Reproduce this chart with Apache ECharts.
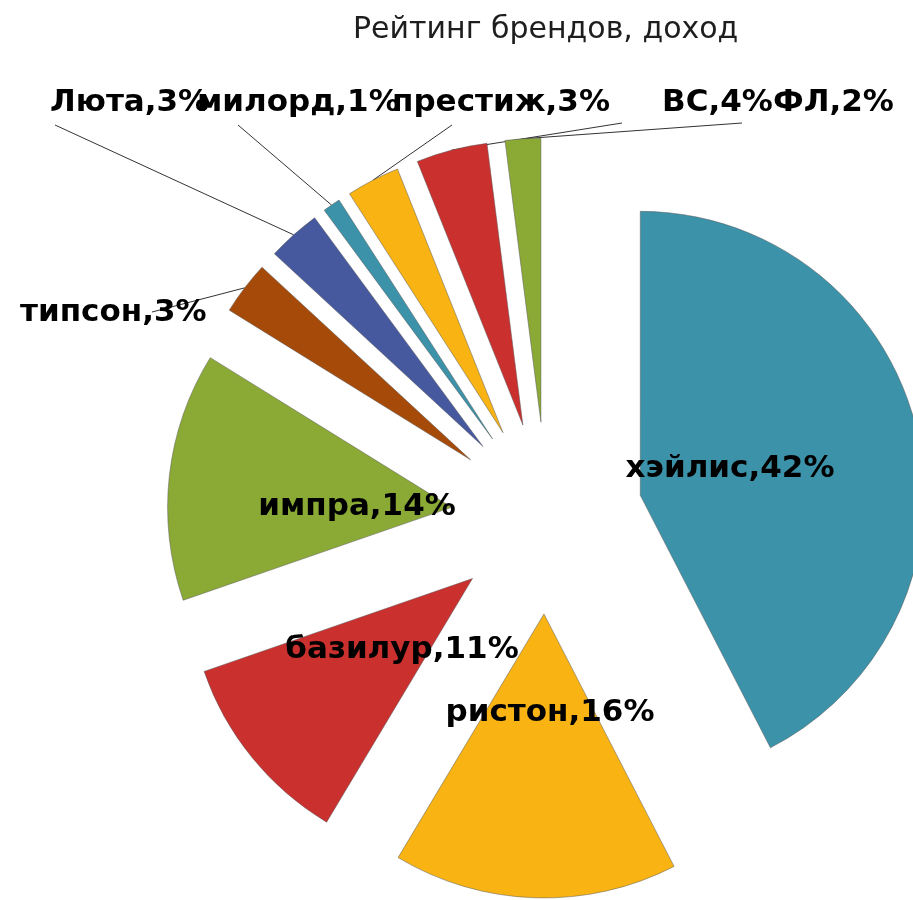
<!DOCTYPE html>
<html>
<head>
<meta charset="utf-8">
<title>Рейтинг брендов, доход</title>
<script src="https://cdn.jsdelivr.net/npm/echarts@6/dist/echarts.min.js"></script>
<style>
html, body { margin: 0; padding: 0; background: #fff; }
#chart { width: 913px; height: 900px; }
</style>
</head>
<body>
<div id="chart"></div>
<script>
// бренды и их доля в доходе, %
const brands = ['хэйлис', 'ристон', 'базилур', 'импра', 'типсон', 'Люта', 'милорд', 'престиж', 'ВС', 'ФЛ']
const shares = [42, 16, 11, 14, 3, 3, 1, 3, 4, 2]
// подписи внутри секторов, остальные - снаружи с линией
const insideLabels = ['хэйлис', 'ристон', 'базилур', 'импра']

const colors = ['#3b92a9', '#f9b414', '#c9302e', '#8ba935', '#a54a09', '#46599e', '#3b92a9', '#f9b414', '#c9302e', '#8ba935']

// центр круга, радиус и насколько выдвинут каждый сектор
const CX = 547
const CY = 518
const R = 284
const EXPLODE = 96

// куда ставим подписи (внутренние - по центру, внешние - от левого края)
const labelSpots = {
  'хэйлис': [730, 469],
  'ристон': [550, 713],
  'базилур': [402, 650],
  'импра': [357, 507],
  'типсон': [20, 313],
  'Люта': [50, 103],
  'милорд': [197, 103],
  'престиж': [392, 103],
  'ВС': [662, 103],
  'ФЛ': [773, 103]
}
// конец выноски у текста
const lineEnds = {
  'типсон': [152, 312],
  'Люта': [55, 125],
  'милорд': [238, 125],
  'престиж': [452, 125],
  'ВС': [622, 123],
  'ФЛ': [742, 123]
}

const chart = echarts.init(document.getElementById('chart'))

const total = shares.reduce((a, b) => a + b, 0)
let cum = 0

// каждый сектор - отдельный круг со сдвинутым центром, остальные сектора в нём прозрачные
const series = brands.map((name, i) => {
  const mid = (cum + shares[i] / 2) / total * 2 * Math.PI
  cum += shares[i]
  const inside = insideLabels.indexOf(name) >= 0
  return {
    type: 'pie',
    name: name,
    center: [CX + EXPLODE * Math.sin(mid), CY - EXPLODE * Math.cos(mid)],
    radius: R,
    startAngle: 90,
    clockwise: true,
    avoidLabelOverlap: false,
    emphasis: { disabled: true },
    label: {
      show: true,
      position: inside ? 'inside' : 'outside',
      formatter: '{b},{c}%',
      fontFamily: 'DejaVu Sans',
      fontWeight: 'bold',
      fontSize: 31,
      color: '#000'
    },
    labelLine: {
      show: !inside,
      length: 10,
      length2: 0,
      lineStyle: { color: '#333', width: 1 }
    },
    labelLayout: function (params) {
      if (params.dataIndex !== i) return {}
      const spot = labelSpots[name]
      const res = {
        x: spot[0],
        y: spot[1],
        align: inside ? 'center' : 'left',
        verticalAlign: 'middle'
      }
      if (!inside && params.labelLinePoints) {
        res.labelLinePoints = [params.labelLinePoints[0], lineEnds[name]]
      }
      return res
    },
    data: brands.map((n, j) => {
      if (j === i) {
        return {
          name: n,
          value: shares[j],
          itemStyle: { color: colors[j], borderColor: 'rgba(90, 90, 90, 0.5)', borderWidth: 1 }
        }
      }
      return {
        name: n,
        value: shares[j],
        itemStyle: { color: 'rgba(0,0,0,0)', borderWidth: 0 },
        label: { show: false },
        labelLine: { show: false }
      }
    })
  }
})

const option = {
  animation: false,
  backgroundColor: '#fff',
  title: {
    text: 'Рейтинг брендов, доход',
    left: 348,
    top: 10,
    textStyle: {
      fontFamily: 'DejaVu Sans',
      fontWeight: 'normal',
      fontSize: 30,
      color: '#1e1e1e'
    }
  },
  series: series
}

chart.setOption(option)
</script>
</body>
</html>
